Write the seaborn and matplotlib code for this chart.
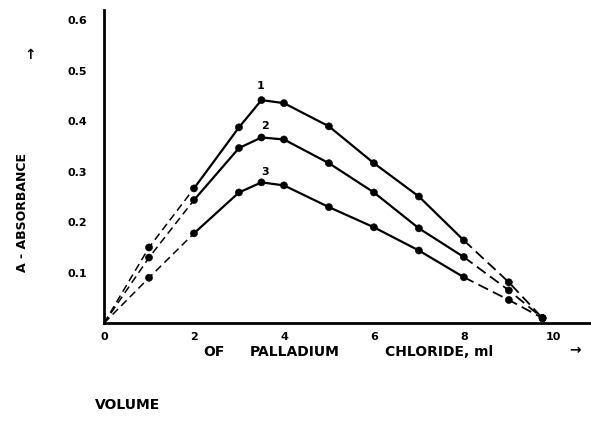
import pandas as pd
import matplotlib.pyplot as plt
import seaborn as sns

# volume of PdCl2 (ml) and absorbance for the three curves
volume = [0, 1, 2, 3, 3.5, 4, 5, 6, 7, 8, 9, 9.75]
curve_1 = [0, 0.15, 0.267, 0.388, 0.442, 0.436, 0.39, 0.317, 0.251, 0.164, 0.081, 0.01]
curve_2 = [0, 0.13, 0.244, 0.347, 0.368, 0.364, 0.317, 0.259, 0.188, 0.131, 0.065, 0.01]
curve_3 = [0, 0.09, 0.178, 0.259, 0.279, 0.273, 0.23, 0.19, 0.144, 0.091, 0.046, 0.01]
curve_names = ["1", "2", "3"]
x_ticks = [0, 2, 4, 6, 8, 10]
y_ticks = [0.1, 0.2, 0.3, 0.4, 0.5, 0.6]

rows = []
for name, ys in zip(curve_names, [curve_1, curve_2, curve_3]):
    for v, a in zip(volume, ys):
        rows.append({"curve": name, "volume": v, "absorbance": a})
df = pd.DataFrame(rows)

solid = df[(df["volume"] >= 2) & (df["volume"] <= 8)]
start = df[df["volume"] <= 2]
end = df[df["volume"] >= 8]
pts = df[df["volume"] > 0]

sns.set_style("white")
plt.rcParams["font.family"] = ["DejaVu Sans"]
plt.rcParams["font.weight"] = "bold"
plt.rcParams["text.color"] = "black"
plt.rcParams["xtick.color"] = "black"
plt.rcParams["ytick.color"] = "black"

fig = plt.figure(figsize=(5.91, 4.47), dpi=100)
ax = fig.add_axes([0.176, 0.277, 0.822, 0.70])

black = {"1": "black", "2": "black", "3": "black"}
sns.lineplot(data=solid, x="volume", y="absorbance", hue="curve", palette=black,
             linewidth=1.6, legend=False, ax=ax, estimator=None, sort=True)
sns.lineplot(data=start, x="volume", y="absorbance", hue="curve", palette=black,
             linewidth=1.1, linestyle=(0, (5, 3)), legend=False, ax=ax, estimator=None)
sns.lineplot(data=end, x="volume", y="absorbance", hue="curve", palette=black,
             linewidth=1.3, linestyle=(0, (6, 3)), legend=False, ax=ax, estimator=None)
sns.scatterplot(data=pts, x="volume", y="absorbance", hue="curve", palette=black,
                s=26, edgecolor="black", legend=False, ax=ax, zorder=3)

# curve numbers above the peaks
ax.text(3.49, 0.47, "1", fontsize=8, ha="center", va="center")
ax.text(3.58, 0.39, "2", fontsize=8, ha="center", va="center")
ax.text(3.58, 0.30, "3", fontsize=8, ha="center", va="center")

ax.set_xlim(0, 10.8)
ax.set_ylim(0, 0.62)
ax.set_xticks(x_ticks)
ax.set_yticks(y_ticks)
ax.set_xticklabels([str(t) for t in x_ticks], fontsize=8, fontweight="bold")
ax.set_yticklabels([f"{t:.1f}" for t in y_ticks], fontsize=8, fontweight="bold")
ax.tick_params(length=0)
ax.tick_params(axis="y", pad=12)
ax.tick_params(axis="x", pad=6)
ax.set_xlabel("")
ax.set_ylabel("")
sns.despine(ax=ax)
for side in ["left", "bottom"]:
    ax.spines[side].set_linewidth(2)
    ax.spines[side].set_color("black")

fig.text(23 / 591, 1 - 212 / 447, "A - ABSORBANCE", rotation=90, fontsize=9,
         fontweight="bold", ha="center", va="center")
fig.text(30 / 591, 1 - 55 / 447, "↑", fontsize=10, fontweight="bold",
         ha="center", va="center")
fig.text(95 / 591, 1 - 405 / 447, "VOLUME", fontsize=10, fontweight="bold",
         ha="left", va="center")
# x label words spread out like the original lettering
for word, px in [("OF", 203), ("PALLADIUM", 250), ("CHLORIDE, ml", 385)]:
    fig.text(px / 591, 1 - 352 / 447, word, fontsize=10, fontweight="bold",
             ha="left", va="center")
fig.text(575 / 591, 1 - 350 / 447, "→", fontsize=10, fontweight="bold",
         ha="center", va="center")

fig.savefig("out.png", dpi=100)
